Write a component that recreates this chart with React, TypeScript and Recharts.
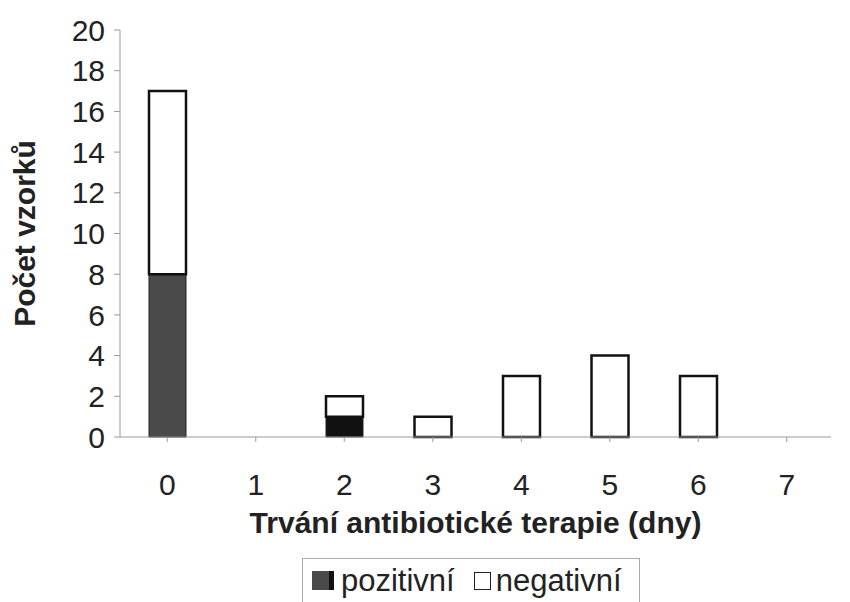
import React from 'react';
import { BarChart, Bar, XAxis, YAxis, Legend, Cell } from 'recharts';

const days = ['0', '1', '2', '3', '4', '5', '6', '7'];
const pozitivni = [8, 0, 1, 0, 0, 0, 0, 0];
const negativni = [9, 0, 1, 1, 3, 4, 3, 0];
const yTicks = [0, 2, 4, 6, 8, 10, 12, 14, 16, 18, 20];

const data = days.map((d, i) => ({ day: d, pozitivni: pozitivni[i], negativni: negativni[i] }));

const FONT = '"Liberation Sans", Arial, sans-serif';
const posColors = ['#4a4a4a', '#111', '#111', '#111', '#111', '#111', '#111', '#111'];

const LegendBox = () => (
  <div
    style={{
      boxSizing: 'border-box',
      width: 338,
      height: 47,
      display: 'flex',
      alignItems: 'center',
      border: '1px solid #aaa',
      paddingLeft: 9,
      paddingBottom: 2,
      fontFamily: FONT,
      fontSize: 31,
      color: '#222',
      background: '#fff',
    }}
  >
    <span style={{ width: 17, height: 19, background: '#4a4a4a', borderRight: '5px solid #111', marginRight: 7 }} />
    <span style={{ marginRight: 19 }}>pozitivní</span>
    <span style={{ width: 15, height: 16, border: '1.5px solid #222', marginRight: 5 }} />
    <span>negativní</span>
  </div>
);

export default function App() {
  return (
    <div style={{ position: 'absolute', left: 0, top: 0, background: '#fff' }}>
      <BarChart
        width={850}
        height={602}
        data={data}
        margin={{ top: 30, right: 19, left: 0, bottom: 0 }}
        barSize={37}
      >
        <XAxis
          dataKey="day"
          height={118}
          padding={{ left: 3, right: 0 }}
          axisLine={{ stroke: '#9a9a9a' }}
          tickLine={{ stroke: '#9a9a9a' }}
          tickSize={5}
          tickMargin={32}
          tick={{ fill: '#222', fontSize: 30, fontFamily: FONT }}
          label={{
            value: 'Trvání antibiotické terapie (dny)',
            position: 'insideBottom',
            offset: 22,
            style: { fill: '#222', fontSize: 30, fontWeight: 'bold', fontFamily: FONT },
          }}
        />
        <YAxis
          width={120}
          domain={[0, 20]}
          ticks={yTicks}
          interval={0}
          axisLine={{ stroke: '#9a9a9a' }}
          tickLine={{ stroke: '#9a9a9a' }}
          tickSize={6}
          tickMargin={9}
          tick={{ fill: '#222', fontSize: 30, fontFamily: FONT }}
          label={{
            value: 'Počet vzorků',
            angle: -90,
            position: 'insideLeft',
            offset: 24,
            style: { fill: '#222', fontSize: 30, fontWeight: 'bold', fontFamily: FONT, textAnchor: 'middle' },
          }}
        />
        <Legend
          verticalAlign="bottom"
          align="center"
          content={<LegendBox />}
          wrapperStyle={{ left: 302, bottom: -3, width: 338 }}
        />
        <Bar dataKey="pozitivni" stackId="a" fill="#444" stroke="#222" strokeWidth={1} isAnimationActive={false}>
          {data.map((_, i) => (
            <Cell key={i} fill={posColors[i]} />
          ))}
        </Bar>
        <Bar dataKey="negativni" stackId="a" fill="#fff" stroke="#111" strokeWidth={2.5} isAnimationActive={false} />
      </BarChart>
    </div>
  );
}
